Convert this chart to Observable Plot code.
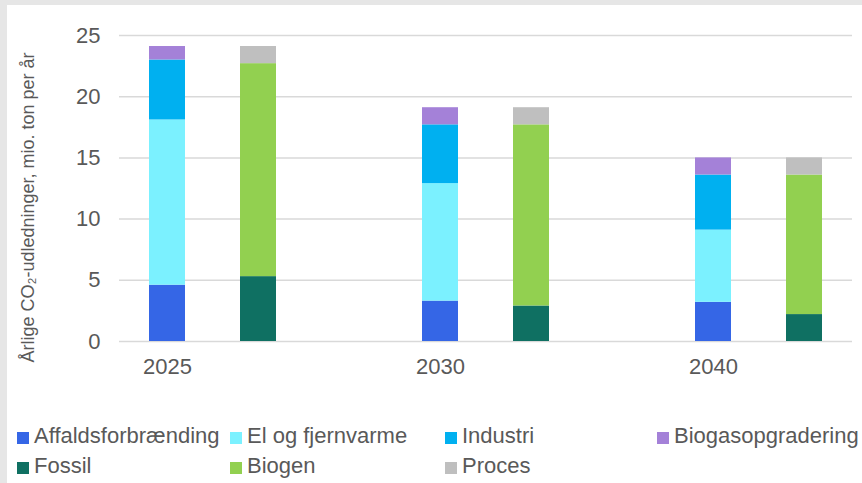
<!DOCTYPE html>
<html><head><meta charset="utf-8">
<script src="https://cdn.jsdelivr.net/npm/d3@7"></script>
<script src="https://cdn.jsdelivr.net/npm/@observablehq/plot@0.6"></script>
<style>
body{margin:0;background:#fff;font-family:"Liberation Sans",Arial,sans-serif;}
#wrap{position:relative;width:862px;height:483px;overflow:hidden;background:#fff;}
.strip{position:absolute;background:#e6e6e6;z-index:2}
#legend{display:grid;grid-template-columns:213px 215px 212px auto;padding:21px 0 0 17px;font-size:22px;color:#595959;line-height:30px;}
.item{display:flex;align-items:center;white-space:nowrap}
.sw{width:12px;height:12px;margin-right:5px;margin-top:3px;flex:none}
</style>
</head><body>
<div id="wrap">
  <div class="strip" style="left:0;top:0;width:862px;height:5px"></div>
  <div class="strip" style="left:0;top:0;width:7px;height:483px"></div>
  <div id="chart"></div>
  <div id="legend"></div>
</div>
<script>
// Categories (x slots): each year has two bars, followed by an empty gap slot
const slots = ["2025", "2025 B", "gap1", "2030", "2030 B", "gap2", "2040", "2040 B"];
const tickLabels = ["2025", "2030", "2040"];
const slotsA = ["2025", "2030", "2040"];
const slotsB = ["2025 B", "2030 B", "2040 B"];

// Bar A series (by sector)
const affaldsforbraending = [4.6, 3.3, 3.2];
const elOgFjernvarme = [13.5, 9.6, 5.9];
const industri = [4.9, 4.8, 4.5];
const biogasopgradering = [1.1, 1.4, 1.4];
// Bar B series (by origin)
const fossil = [5.3, 2.9, 2.2];
const biogen = [17.4, 14.8, 11.4];
const proces = [1.4, 1.4, 1.4];

const seriesNames = ["Affaldsforbrænding", "El og fjernvarme", "Industri", "Biogasopgradering", "Fossil", "Biogen", "Proces"];
const seriesColors = ["#3566e6", "#7bf1ff", "#00b0f0", "#a481d8", "#0f7062", "#92d050", "#bfbfbf"];
const yTicks = [0, 5, 10, 15, 20, 25];
const yTitle = "Årlige CO₂-udledninger, mio. ton per år";

const groupA = [
  ["Affaldsforbrænding", affaldsforbraending],
  ["El og fjernvarme", elOgFjernvarme],
  ["Industri", industri],
  ["Biogasopgradering", biogasopgradering]
];
const groupB = [
  ["Fossil", fossil],
  ["Biogen", biogen],
  ["Proces", proces]
];
const data = [];
slotsA.forEach((s, i) => groupA.forEach(([name, vals]) => data.push({slot: s, series: name, value: vals[i]})));
slotsB.forEach((s, i) => groupB.forEach(([name, vals]) => data.push({slot: s, series: name, value: vals[i]})));

const chart = Plot.plot({
  width: 862,
  height: 400,
  marginLeft: 119,
  marginRight: 10,
  marginTop: 35,
  marginBottom: 59,
  style: {fontFamily: '"Liberation Sans", Arial, sans-serif', fontSize: "22px", color: "#595959", background: "transparent", overflow: "visible"},
  x: {domain: slots, paddingInner: 0.6, paddingOuter: 0.3, axis: null},
  y: {domain: [0, 25], axis: null},
  color: {domain: seriesNames, range: seriesColors},
  marks: [
    Plot.ruleY(yTicks, {stroke: "#d9d9d9", strokeWidth: 1.5}),
    Plot.barY(data, {x: "slot", y: "value", fill: "series"}),
    Plot.axisY({ticks: yTicks, tickSize: 0, tickPadding: 19, fontSize: 22, fill: "#595959", label: null}),
    Plot.axisX({ticks: tickLabels, tickSize: 0, tickPadding: 17, fontSize: 22, fill: "#595959", label: null}),
    Plot.text([yTitle], {frameAnchor: "left", dx: -91, dy: 19, rotate: -90, fontSize: 18, fill: "#595959", textAnchor: "middle"})
  ]
});
document.getElementById("chart").appendChild(chart);

const legend = document.getElementById("legend");
const order = ["Affaldsforbrænding", "El og fjernvarme", "Industri", "Biogasopgradering", "Fossil", "Biogen", "Proces"];
order.forEach(name => {
  const it = document.createElement("div");
  it.className = "item";
  const sw = document.createElement("span");
  sw.className = "sw";
  sw.style.background = seriesColors[seriesNames.indexOf(name)];
  const tx = document.createElement("span");
  tx.textContent = name;
  it.appendChild(sw); it.appendChild(tx);
  legend.appendChild(it);
});
</script>
</body></html>
